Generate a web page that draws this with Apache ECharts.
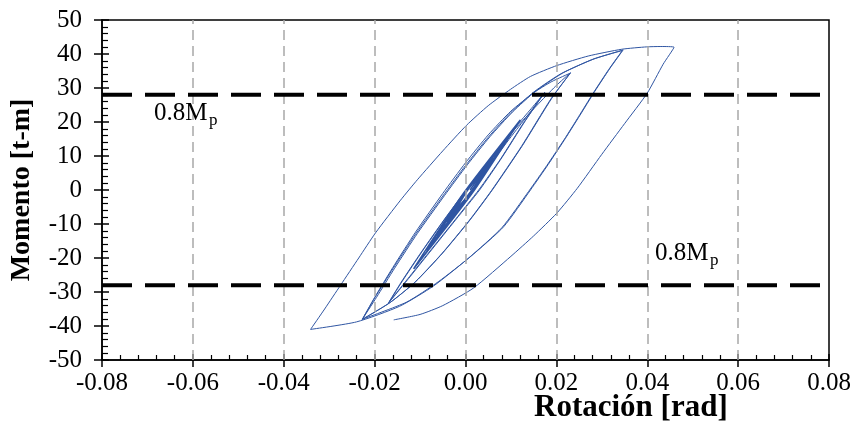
<!DOCTYPE html>
<html>
<head>
<meta charset="utf-8">
<script src="https://cdn.jsdelivr.net/npm/echarts@6/dist/echarts.min.js"></script>
<style>html,body{margin:0;padding:0;background:#fff}#c{width:856px;height:443px}</style>
</head>
<body>
<div id="c"></div>
<script>
// ---- Data (rotation [rad], moment [t-m]) ----
const xTicks = [-0.08, -0.06, -0.04, -0.02, 0.00, 0.02, 0.04, 0.06, 0.08];
const yTicks = [-50, -40, -30, -20, -10, 0, 10, 20, 30, 40, 50];
const mp08 = 28;               // 0.8 Mp level (t-m)
const mpLabel = '0.8M';
const mpSub = 'p';
const xTitle = 'Rotación [rad]';
const yTitle = 'Momento [t-m]';

// small (quasi-elastic) cycles
const elasticCycles = [
  [0.001,0],
  [0.0045,6.5],[0.0015,0],[-0.0025,-6.5],[0.0005,0],
  [0.0046,6.6],[0.0015,0],[-0.0025,-6.6],[0.0005,0],
  [0.0045,6.5],[0.0016,-0.1],[-0.0026,-6.6],[0.0004,0.1],
  [0.0046,6.5],[0.0016,0],[-0.0026,-6.5],[0.0004,0],
  [0.0060,9.3],[0.0016,0],[-0.0040,-9.3],[0.0004,0],
  [0.0061,9.4],[0.0016,0],[-0.0040,-9.4],[0.0004,0],
  [0.0060,9.3],[0.0017,-0.1],[-0.0041,-9.5],[0.0003,0.1],
  [0.0061,9.3],[0.0017,-0.1],[-0.0041,-9.4],[0.0003,0.1],
  [0.0080,13.0],[0.0016,-0.2],[-0.0062,-13.4],[0.0002,-0.2],
  [0.0081,13.1],[0.0016,-0.2],[-0.0062,-13.5],[0.0002,-0.2],
  [0.0080,13.0],[0.0017,-0.3],[-0.0063,-13.6],[0.0001,-0.3],
  [0.0081,13.0],[0.0017,-0.3],[-0.0063,-13.5],[0.0001,-0.3],
  [0.0100,16.8],[0.0016,-0.45],[-0.0085,-17.7],[0.0000,-0.45],
  [0.0101,16.9],[0.0016,-0.45],[-0.0086,-17.8],[-0.0001,-0.45],
  [0.0100,16.8],[0.0017,-0.5],[-0.0086,-17.7],[-0.0001,-0.5],
  [0.0121,20.6],[0.0012,-1.25],[-0.0114,-23.1],[-0.0006,-1.25],
  [0.0120,20.5],[0.0013,-1.3],[-0.0114,-23.2]
];
const cycle7 = [
  [-0.0114,-23.2],[-0.009,-19],[-0.0045,-10.5],[0.0005,-1.5],[0.006,8.5],[0.0105,16.5],[0.014,22.5],[0.0174,28.7],
  [0.013,20],[0.008,9.5],[0.0031,0],[-0.002,-8.5],[-0.008,-18.5],[-0.0125,-26],[-0.0169,-33.2]
];
const cycle8 = [
  [-0.014,-27],[-0.0095,-18],[-0.0045,-8.5],[0.0005,0.5],[0.006,10],[0.011,18.5],[0.0145,24],[0.0174,28.6],
  [0.0128,19.8],[0.0078,9.3],[0.0029,0],[-0.0022,-8.6],[-0.0082,-18.6],[-0.0127,-26.1],[-0.0169,-33.1]
];
const cycle9 = [
  [-0.0142,-27.2],[-0.0097,-18.2],[-0.0047,-8.7],[0.0003,0.3],[0.0058,9.8],[0.0108,17.8],[0.0158,25],[0.0198,30.5],[0.0231,34.5],
  [0.019,27],[0.0125,13],[0.0059,0],[0.001,-8.8],[-0.005,-18.5],[-0.011,-27],[-0.0165,-33],[-0.0227,-38]
];
const cycle10 = [
  [-0.020,-31.6],[-0.016,-22.8],[-0.011,-12.4],[-0.005,-1],[0.000,8],[0.005,16.2],[0.010,23.2],[0.015,28.6],[0.019,31.9],[0.0231,34.4],
  [0.0188,26.8],[0.0123,12.8],[0.0057,-0.2],[0.0008,-9],[-0.0052,-18.7],[-0.0112,-27.2],[-0.0167,-33.2],[-0.0227,-38.1]
];
const cycle11 = [
  [-0.020,-31.8],[-0.016,-23.2],[-0.011,-13],[-0.005,-1.8],[0.000,7.2],[0.005,15.5],[0.010,22.8],[0.015,28.8],[0.021,34.2],[0.028,38.4],[0.0347,41.2],
  [0.0318,35.8],[0.0284,28.9],[0.0252,22],[0.022,15.2],[0.0182,7.5],[0.0143,0],[0.0084,-10.8],[0.0011,-19.6],[-0.006,-27],[-0.013,-33],[-0.0227,-38]
];
const cycle12 = [
  [-0.0196,-31.6],[-0.0156,-23],[-0.0106,-12.8],[-0.0046,-1.6],[0.0004,7.4],[0.0054,15.7],[0.0104,23],[0.0154,29],[0.0214,34.4],[0.0283,38.6],[0.0345,41],
  [0.0315,35.4],[0.0281,28.5],[0.0249,21.6],[0.0217,14.8],[0.0179,7.2],[0.0139,-0.4],[0.008,-11.1],[0.0007,-20],[-0.007,-28.2],[-0.0145,-34.2],[-0.024,-38.8],[-0.0341,-41]
];
const cycle13 = [
  [-0.031,-35],[-0.0275,-28],[-0.0235,-20],[-0.0198,-12.6],[-0.0143,-3],[-0.0106,3],[-0.005,11.5],[0.0002,19],[0.005,24.8],[0.0099,29.6],[0.0143,33.4],[0.0201,36.6],[0.027,39.4],[0.0344,41.4],[0.0399,42.1],[0.043,42.2],[0.0459,42],
  [0.0435,37],[0.040,28.5],[0.035,19.5],[0.030,10.5],[0.0246,0.5],[0.0201,-6.8],[0.015,-13.5],[0.010,-19.5],[0.0018,-28.8],[-0.005,-34],[-0.010,-36.6],[-0.0158,-38.2]
];

const curve = [].concat(cycle7, cycle8, cycle9, cycle10, cycle11, cycle12, cycle13);

const serif = '"Liberation Serif", "Times New Roman", serif';
const chart = echarts.init(document.getElementById('c'), null, {renderer: 'canvas'});
const xMin = xTicks[0], xMax = xTicks[xTicks.length - 1], xInt = xTicks[1] - xTicks[0];
const yMin = yTicks[0], yMax = yTicks[yTicks.length - 1], yInt = yTicks[1] - yTicks[0];

const baseX = {type: 'value', min: xMin, max: xMax, interval: xInt, position: 'bottom'};
const baseY = {type: 'value', min: yMin, max: yMax, interval: yInt, position: 'left'};

chart.setOption({
  animation: false,
  grid: {left: 102, right: 27, top: 20, bottom: 83, show: true, borderColor: '#000', borderWidth: 1.5, backgroundColor: 'transparent'},
  xAxis: [
    Object.assign({}, baseX, {
      axisLine: {onZero: false, lineStyle: {color: '#000', width: 1.5}},
      axisTick: {show: true, inside: false, length: 7, lineStyle: {color: '#000', width: 1.5}},
      minorTick: {show: false},
      axisLabel: {margin: 11, color: '#000', fontFamily: serif, fontSize: 25,
        formatter: v => v.toFixed(2)},
      splitLine: {show: false}
    }),
    Object.assign({}, baseX, {
      axisLine: {show: false, onZero: false},
      axisTick: {show: true, inside: true, length: 6, lineStyle: {color: '#000', width: 1.5}},
      minorTick: {show: true, splitNumber: 5, length: 5, lineStyle: {color: '#000', width: 1.2}},
      axisLabel: {show: false},
      splitLine: {show: false}
    })
  ],
  yAxis: [
    Object.assign({}, baseY, {
      axisLine: {onZero: false, lineStyle: {color: '#000', width: 1.5}},
      axisTick: {show: true, inside: false, length: 8, lineStyle: {color: '#000', width: 1.5}},
      minorTick: {show: false},
      axisLabel: {margin: 20, color: '#000', fontFamily: serif, fontSize: 25},
      splitLine: {show: false},
      name: yTitle, nameLocation: 'middle', nameGap: 66, nameRotate: 90,
      nameTextStyle: {color: '#000', fontFamily: serif, fontSize: 28, fontWeight: 'bold'}
    }),
    Object.assign({}, baseY, {
      axisLine: {show: false, onZero: false},
      axisTick: {show: true, inside: true, length: 7, lineStyle: {color: '#000', width: 1.5}},
      minorTick: {show: true, splitNumber: 5, length: 6, lineStyle: {color: '#000', width: 1.2}},
      axisLabel: {show: false},
      splitLine: {show: false}
    })
  ],
  series: [
    {
      type: 'line', data: [], z: 1, silent: true,
      markLine: {
        silent: true, symbol: ['none', 'none'], label: {show: false},
        lineStyle: {color: '#a8a8a8', width: 1.5, type: [10, 6]},
        data: xTicks.slice(1, -1).map(v => ({xAxis: v}))
      }
    },
    {
      type: 'line', data: elasticCycles, showSymbol: false, symbol: 'none',
      smooth: 0.2, lineStyle: {color: '#2F55A2', width: 1.4}, z: 3, silent: true
    },
    {
      type: 'line', data: curve, showSymbol: false, symbol: 'none',
      smooth: 0.2, lineStyle: {color: '#2F55A2', width: 1}, z: 3, silent: true
    },
    {
      type: 'line', data: [[xMin, mp08], [xMax, mp08]], showSymbol: false, symbol: 'none',
      lineStyle: {color: '#000', width: 4, type: [30, 13]}, z: 5, silent: true
    },
    {
      type: 'line', data: [[xMin, -mp08], [xMax, -mp08]], showSymbol: false, symbol: 'none',
      lineStyle: {color: '#000', width: 4, type: [30, 13]}, z: 5, silent: true
    }
  ],
  graphic: [
    {type: 'text', left: 154, top: 101, z: 10, style: {text: mpLabel, font: '25px ' + serif, fill: '#000'}},
    {type: 'text', left: 209, top: 112, z: 10, style: {text: mpSub, font: '17px ' + serif, fill: '#000'}},
    {type: 'text', left: 655, top: 241, z: 10, style: {text: mpLabel, font: '25px ' + serif, fill: '#000'}},
    {type: 'text', left: 710, top: 252, z: 10, style: {text: mpSub, font: '17px ' + serif, fill: '#000'}},
    {type: 'text', left: 534, top: 392, z: 10, style: {text: xTitle, font: 'bold 31px ' + serif, fill: '#000'}}
  ]
});
</script>
</body>
</html>
